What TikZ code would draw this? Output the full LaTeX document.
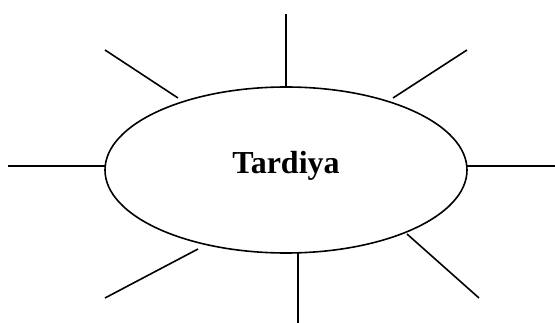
\documentclass[tikz,border=0pt]{standalone}
\usepackage{fontspec}
\setmainfont{Liberation Serif}
\usetikzlibrary{shapes.geometric}
\begin{document}
\begin{tikzpicture}[x=1pt,y=-1pt,
  ray/.style={draw=black,line width=1.6pt},
  hub/.style={ellipse,draw=black,line width=1.6pt,minimum width=362pt,minimum height=166pt,inner sep=0pt},
  lbl/.style={inner sep=0pt,font=\fontsize{32}{38}\selectfont\bfseries}]
\useasboundingbox (0,0) rectangle (555,323);
\node[hub] (c) at (286,170) {};
\node[lbl] (txt) at (286,166) {Tardiya};
\coordinate (t) at (286,14);
\coordinate (tl) at (105,50);
\coordinate (tr) at (467,50);
\coordinate (l) at (8,166);
\coordinate (r) at (555,166);
\coordinate (bl) at (105,298);
\coordinate (b) at (298,323);
\coordinate (br) at (479,298);
\coordinate (et) at (286,87);
\coordinate (etl) at (178,98);
\coordinate (etr) at (393,98);
\coordinate (el) at (105,166);
\coordinate (er) at (467,166);
\coordinate (ebl) at (198,249);
\coordinate (eb) at (298,253);
\coordinate (ebr) at (407,234);
\draw[ray] (t) -- (et);
\draw[ray] (tl) -- (etl);
\draw[ray] (tr) -- (etr);
\draw[ray] (l) -- (el);
\draw[ray] (r) -- (er);
\draw[ray] (bl) -- (ebl);
\draw[ray] (b) -- (eb);
\draw[ray] (br) -- (ebr);
\end{tikzpicture}
\end{document}
